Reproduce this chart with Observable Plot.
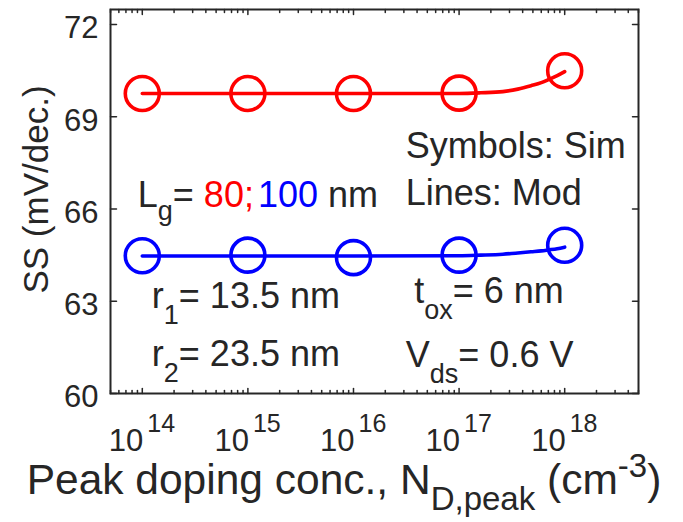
<!DOCTYPE html>
<html>
<head>
<meta charset="utf-8">
<script src="https://cdn.jsdelivr.net/npm/d3@7"></script>
<script src="https://cdn.jsdelivr.net/npm/@observablehq/plot@0.6"></script>
<style>
  body { margin: 0; background: #fff; }
  svg text { white-space: pre; }
</style>
</head>
<body>
<div id="chart"></div>
<script>
// ---- data ----
const simConc = [1e14, 1e15, 1e16, 1e17, 1e18];
const simSS_Lg80 = [69.76, 69.76, 69.76, 69.77, 70.50];
const simSS_Lg100 = [64.48, 64.50, 64.42, 64.50, 64.82];

const modConc = [1e14, 1e15, 1e16, 1e17, 1.6e17, 2.6e17, 3.6e17, 4.8e17, 6e17, 7e17, 8.5e17, 1e18];
const modSS_Lg80 = [69.76, 69.76, 69.76, 69.76, 69.78, 69.82, 69.90, 70.01, 70.11, 70.21, 70.34, 70.47];
const modSS_Lg100 = [64.47, 64.47, 64.47, 64.48, 64.50, 64.53, 64.57, 64.61, 64.64, 64.67, 64.71, 64.76];

const yTicks = [60, 63, 66, 69, 72];
const xTickExps = [14, 15, 16, 17, 18];

const RED = "#ff0000", BLUE = "#0000ff", INK = "#262626";
const FONT = "'Liberation Sans', Arial, Helvetica, sans-serif";

const simRows = [
  ...simConc.map((c, i) => ({c, ss: simSS_Lg80[i], s: "80"})),
  ...simConc.map((c, i) => ({c, ss: simSS_Lg100[i], s: "100"}))
];
const modRows = [
  ...modConc.map((c, i) => ({c, ss: modSS_Lg80[i], s: "80"})),
  ...modConc.map((c, i) => ({c, ss: modSS_Lg100[i], s: "100"}))
];
const colorOf = d => d.s === "80" ? RED : BLUE;

const decades = xTickExps.map(e => 10 ** e);
const xDomain = [5e13, 5e18];
const minor = d3.scaleLog().domain(xDomain).ticks().filter(v => !decades.some(d => Math.abs(d - v) / d < 1e-9));

const tickShape = {draw(ctx, l) { ctx.moveTo(0, 0); ctx.lineTo(0, -l); }};
const tk = (data, opts) => Plot.vector(data, {x: d => d, anchor: "start", shape: tickShape, stroke: INK, strokeWidth: 1.5, ...opts});
const tky = (data, opts) => Plot.vector(data, {y: d => d, anchor: "start", shape: tickShape, stroke: INK, strokeWidth: 1.5, ...opts});

const plot = Plot.plot({
  width: 683,
  height: 522,
  marginLeft: 110,
  marginRight: 45,
  marginTop: 9,
  marginBottom: 129,
  style: {fontFamily: FONT, color: INK, background: "white", overflow: "visible"},
  x: {type: "log", domain: xDomain, axis: null},
  y: {domain: [60, 72.49]},
  marks: [
    Plot.line(modRows, {x: "c", y: "ss", z: "s", stroke: colorOf, strokeWidth: 3.6, curve: "monotone-x"}),
    Plot.dot(simRows, {x: "c", y: "ss", r: 17, stroke: colorOf, strokeWidth: 3.6, fill: "none"}),
    Plot.axisY({ticks: yTicks, tickSize: 0, tickPadding: 12, fontSize: 31, dy: 4, label: null, fill: INK}),
    Plot.text(decades, {x: d => d, text: () => "10", frameAnchor: "bottom", lineAnchor: "bottom", textAnchor: "end", dx: 1, dy: 57, fontSize: 31, fill: INK}),
    Plot.text(decades, {x: d => d, text: d => String(Math.round(Math.log10(d))), frameAnchor: "bottom", lineAnchor: "bottom", textAnchor: "start", dx: 5, dy: 38, fontSize: 25, fill: INK}),
    Plot.text(["SS (mV/dec.)"], {frameAnchor: "left", rotate: -90, lineAnchor: "bottom", textAnchor: "middle", dx: -63, dy: -12, fontSize: 35, fill: INK}),
    tk(decades, {frameAnchor: "bottom", rotate: 0, length: 5}),
    tk(minor, {frameAnchor: "bottom", rotate: 0, length: 3}),
    tk(decades, {frameAnchor: "top", rotate: 180, length: 5}),
    tk(minor, {frameAnchor: "top", rotate: 180, length: 3}),
    tky(yTicks, {frameAnchor: "left", rotate: 90, length: 6}),
    tky(yTicks, {frameAnchor: "right", rotate: -90, length: 6}),
    Plot.frame({stroke: INK, strokeWidth: 2})
  ]
});

// ---- rich-text annotations (subscripts / superscripts / colors) ----
const X = plot.scale("x"), Y = plot.scale("y");
function rich(x, y, parts, size, subSize, anchor = "start") {
  const t = d3.select(plot).append("text")
    .attr("x", x).attr("y", y)
    .attr("font-family", FONT).attr("font-size", size)
    .attr("text-anchor", anchor).attr("fill", INK);
  let shift = 0;
  for (const p of parts) {
    const s = p.sub ? p.sub : p.sup ? -p.sup : 0;
    t.append("tspan")
      .attr("dy", s - shift)
      .attr("dx", p.gap || 0)
      .attr("font-size", (p.sub || p.sup) ? subSize : size)
      .attr("fill", p.color || INK)
      .text(p.t);
    shift = s;
  }
}

const notes = [
  {x: 10 ** 16.5, y: 67.64, parts: [{t: "Symbols: Sim"}]},
  {x: 10 ** 16.5, y: 66.11, parts: [{t: "Lines: Mod"}]},
  {x: 10 ** 13.962, y: 66.05, parts: [{t: "L"}, {t: "g", sub: 13}, {t: "= "}, {t: "80;", color: RED}, {t: "100", color: BLUE, gap: 4}, {t: " nm"}]},
  {x: 10 ** 14.095, y: 62.76, parts: [{t: "r"}, {t: "1", sub: 16}, {t: "= 13.5 nm"}]},
  {x: 10 ** 14.095, y: 60.88, parts: [{t: "r"}, {t: "2", sub: 16}, {t: "= 23.5 nm"}]},
  {x: 10 ** 16.58, y: 62.93, parts: [{t: "t"}, {t: "ox", sub: 16}, {t: "= 6 nm"}]},
  {x: 10 ** 16.5, y: 60.85, parts: [{t: "V"}, {t: "ds", sub: 16}, {t: "= 0.6 V"}]}
];
for (const n of notes) rich(X.apply(n.x), Y.apply(n.y), n.parts, 36, 27);

// x-axis title
const xMid = (X.range[0] + X.range[1]) / 2;
rich(xMid - 30, 494, [
  {t: "Peak doping conc., N"},
  {t: "D,peak", sub: 16},
  {t: " (cm"},
  {t: "-3", sup: 17},
  {t: ")"}
], 42.5, 33, "middle");

document.getElementById("chart").append(plot);
</script>
</body>
</html>
